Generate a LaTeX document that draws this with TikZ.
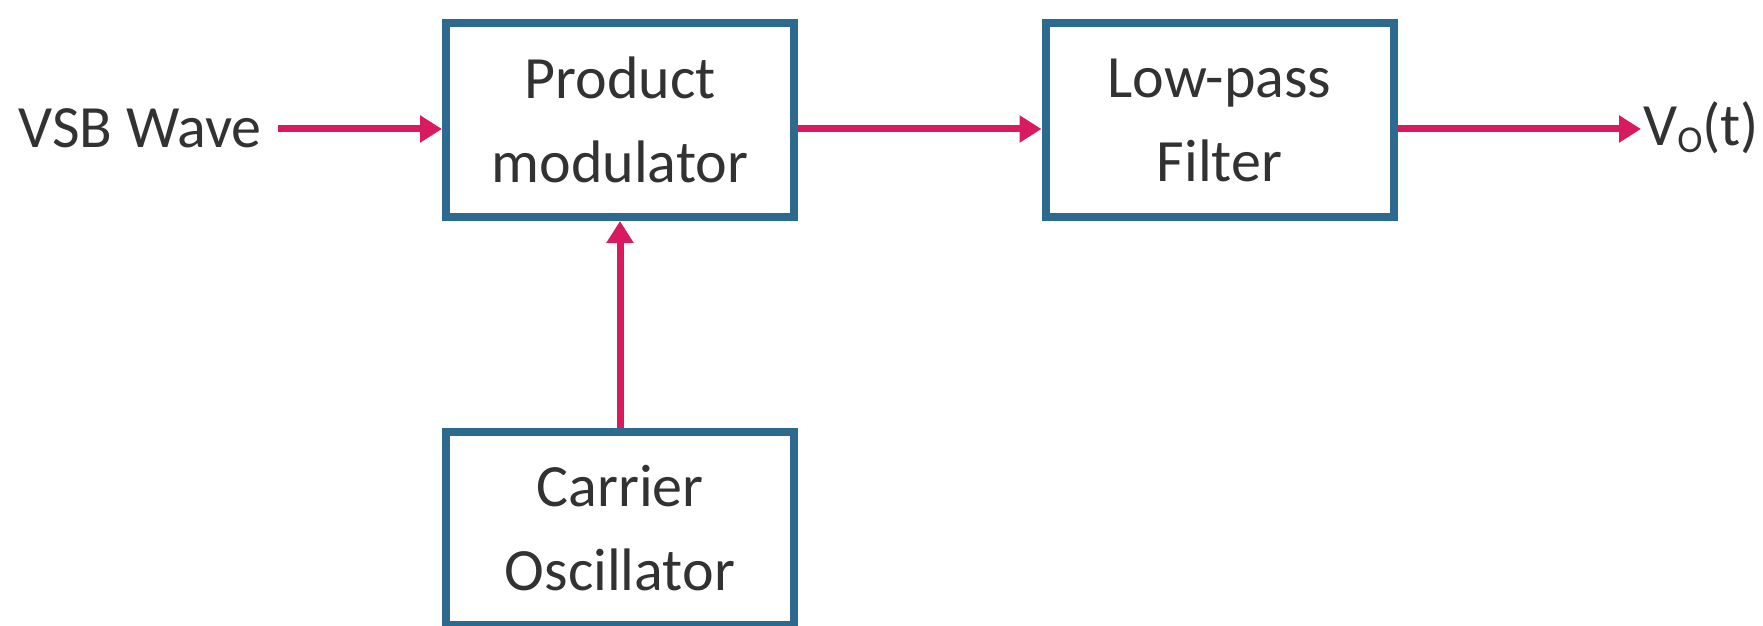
\documentclass[tikz,border=0pt]{standalone}
\usepackage{fontspec}
\setmainfont{Carlito}
\usetikzlibrary{arrows.meta}
\definecolor{boxblue}{RGB}{45,106,143}
\definecolor{arrowpink}{RGB}{216,27,96}
\definecolor{txt}{RGB}{50,50,50}
\begin{document}
\begin{tikzpicture}[x=0.5pt,y=-0.5pt,
  blk/.style={draw=boxblue, line width=4pt, fill=white, minimum width=174pt, minimum height=97pt, align=center, text=txt, font=\fontsize{30}{42}\selectfont},
  lbl/.style={text=txt, font=\fontsize{30}{41}\selectfont, inner sep=0pt},
  sig/.style={draw=arrowpink, line width=3.5pt, -{Triangle[length=11pt,width=13pt]}}]
\useasboundingbox (0,0) rectangle (1763,626);
\node[blk] (pm) at (620,120) {Product\\modulator};
\node[blk] (lp) at (1219.5,120) {Low-pass\\Filter};
\node[blk, minimum height=96.5pt] (co) at (620,528.5) {Carrier\\Oscillator};
\node[lbl, anchor=east] (vsb) at (262,128) {VSB Wave};
\node[lbl, anchor=west] (out) at (1643,128) {V\raisebox{-0.25ex}{\fontsize{19}{19}\selectfont O}(t)};
\draw[sig] ([xshift=8pt]vsb.east |- 0,129) -- (pm.west |- 0,129);
\draw[sig] (pm.east |- 0,129) -- (lp.west |- 0,129);
\draw[sig] (lp.east |- 0,129) -- ([xshift=-1pt]out.west |- 0,129);
\draw[sig] (co.north) -- (pm.south);
\end{tikzpicture}
\end{document}
